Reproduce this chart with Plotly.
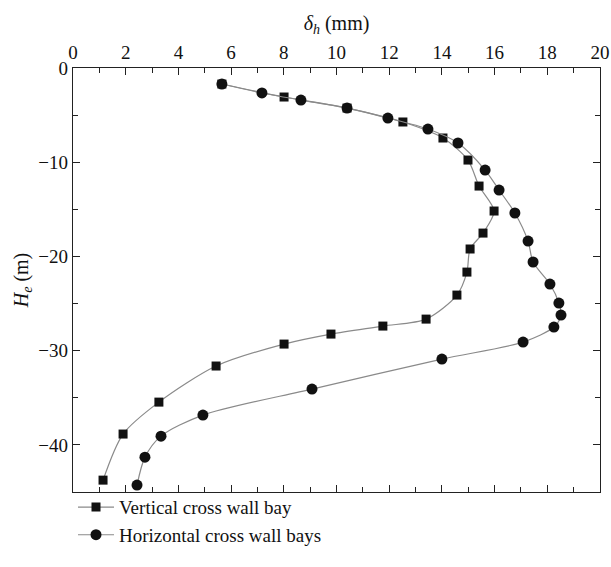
import plotly.graph_objects as go

# Vertical cross wall bay (squares)
vert_x = [5.65, 8.01, 10.40, 12.52, 14.04, 14.99, 15.41, 15.98, 15.56, 15.07,
          14.95, 14.57, 13.40, 11.76, 9.79, 8.01, 5.43, 3.26, 1.90, 1.14]
vert_y = [-1.70, -3.08, -4.25, -5.73, -7.43, -9.77, -12.53, -15.18, -17.52, -19.21,
          -21.66, -24.10, -26.65, -27.39, -28.24, -29.30, -31.63, -35.46, -38.85, -43.74]

# Horizontal cross wall bays (circles)
horiz_x = [5.65, 7.17, 8.65, 10.40, 11.95, 13.47, 14.61, 15.64, 16.17, 16.77,
           17.27, 17.46, 18.10, 18.44, 18.52, 18.25, 17.08, 14.00, 9.07, 4.93,
           3.34, 2.73, 2.43]
horiz_y = [-1.70, -2.65, -3.40, -4.25, -5.31, -6.48, -7.96, -10.83, -12.95, -15.39,
           -18.37, -20.59, -22.93, -24.95, -26.22, -27.49, -29.09, -30.89, -34.08, -36.84,
           -39.07, -41.30, -44.27]

x_ticks = [0, 2, 4, 6, 8, 10, 12, 14, 16, 18, 20]
y_ticks = [0, -10, -20, -30, -40]

FONT = "Liberation Serif"
LINE_C = "#8a8a8a"

fig = go.Figure()
fig.add_trace(go.Scatter(
    x=vert_x, y=vert_y, mode="lines+markers", name="Vertical cross wall bay",
    line=dict(color=LINE_C, width=1.2, shape="spline", smoothing=0.8),
    marker=dict(symbol="square", size=9, color="#111111"),
))
fig.add_trace(go.Scatter(
    x=horiz_x, y=horiz_y, mode="lines+markers", name="Horizontal cross wall bays",
    line=dict(color=LINE_C, width=1.2, shape="spline", smoothing=0.8),
    marker=dict(symbol="circle", size=11, color="#111111"),
))

axis_common = dict(
    showline=True, linecolor="#222222", linewidth=1.3, mirror="ticks",
    ticks="inside", ticklen=7, tickwidth=1.2, tickcolor="#222222",
    showgrid=False, zeroline=False,
    tickfont=dict(family=FONT, size=19, color="#111111"),
)

fig.update_xaxes(
    **axis_common, side="top", range=[0, 20], tickvals=x_ticks,
    minor=dict(dtick=1, ticks="inside", ticklen=5, tickcolor="#222222", showgrid=False),
    title=dict(text="<i>δ<sub>h</sub></i> (mm)", font=dict(family=FONT, size=20, color="#111111"),
               standoff=6),
)
fig.update_yaxes(
    **axis_common, range=[-45, 0], tickvals=y_ticks,
    minor=dict(dtick=5, ticks="inside", ticklen=5, tickcolor="#222222", showgrid=False),
    title=dict(text="<i>H<sub>e</sub></i> (m)", font=dict(family=FONT, size=20, color="#111111"),
               standoff=4),
)

fig.update_layout(
    width=611, height=567,
    margin=dict(l=73, r=11, t=68, b=75, autoexpand=False),
    paper_bgcolor="white", plot_bgcolor="white",
    font=dict(family=FONT, size=19, color="#111111"),
    legend=dict(x=0.0, y=0.009, xanchor="left", yanchor="top",
                font=dict(family=FONT, size=19, color="#111111"),
                bgcolor="rgba(0,0,0,0)", tracegroupgap=0, itemwidth=36),
    showlegend=True,
)

fig.write_html("out.html")
